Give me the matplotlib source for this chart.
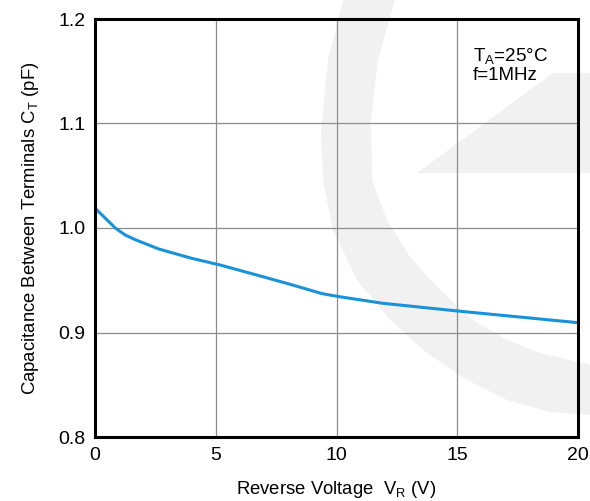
import matplotlib
matplotlib.use("Agg")
import matplotlib.pyplot as plt
from matplotlib.patches import Polygon
import numpy as np

plt.rcParams['font.family'] = ['Liberation Sans', 'DejaVu Sans']
plt.rcParams['mathtext.fontset'] = 'custom'
plt.rcParams['mathtext.rm'] = 'Liberation Sans'
plt.rcParams['mathtext.it'] = 'Liberation Sans'

# curve
vr = [0, 0.2, 0.43, 0.84, 1.25, 1.67, 2.63, 4.0, 5.18, 6.7, 8.1, 9.4, 10.0, 11.9, 15, 17.5, 20]
ct = [1.019, 1.0145, 1.0093, 1.000, 0.9933, 0.9888, 0.980, 0.971, 0.9646, 0.955,
      0.946, 0.9372, 0.9347, 0.928, 0.9206, 0.915, 0.9094]

xticks = [0, 5, 10, 15, 20]
yticks = [0.8, 0.9, 1.0, 1.1, 1.2]
ylabels = ["0.8", "0.9", "1.0", "1.1", "1.2"]

W, H = 590, 501
fig = plt.figure(figsize=(W / 100, H / 100), dpi=100)

# faint logo watermark behind the axes, traced in image pixels
wm = '#f1f1f1'
outer = [(343, 0), (328, 60), (321, 133), (323, 180), (333, 230), (357, 280), (390, 320),
         (427, 353), (467, 380), (507, 400), (550, 412), (590, 415)]
inner = [(590, 365), (540, 353), (507, 340), (473, 320), (440, 290), (410, 257),
         (387, 220), (372, 180), (371, 120), (378, 60), (395, 0)]
ring = [(x, H - y) for x, y in outer + inner]
fig.patches.append(Polygon(ring, closed=True, transform=None,
                           facecolor=wm, edgecolor='none', zorder=-2))
slash = [(417, 173), (553, 73), (590, 73), (590, 173)]
fig.patches.append(Polygon([(x, H - y) for x, y in slash], closed=True, transform=None,
                           facecolor=wm, edgecolor='none', zorder=-2))

ax = fig.add_axes([95 / W, 1 - 437 / H, (578 - 95) / W, (437 - 19) / H])
ax.patch.set_alpha(0)

ax.plot(vr, ct, color='#1a92d8', lw=2.2, zorder=3, solid_capstyle='butt')

ax.set_xlim(0, 20)
ax.set_ylim(0.8, 1.2)
ax.set_xticks(xticks)
ax.set_yticks(yticks)
ax.set_yticklabels(ylabels)
ax.tick_params(length=0, labelsize=14, pad=7)
ax.grid(True, color='#8c8c8c', lw=0.9)
for s in ax.spines.values():
    s.set_linewidth(2.2)
    s.set_zorder(4)

ax.set_xlabel(r"Reverse Voltage  V$_\mathrm{R}$ (V)", fontsize=13.3, labelpad=11)
ax.set_ylabel(r"Capacitance Between Terminals C$_\mathrm{T}$ (pF)", fontsize=13.3, labelpad=12)

ax.text(0.782, 0.935, "T$_\\mathrm{A}$=25°C\nf=1MHz", transform=ax.transAxes,
        fontsize=13.5, va='top', ha='left', linespacing=1.05)

fig.savefig("out.png", dpi=100)
